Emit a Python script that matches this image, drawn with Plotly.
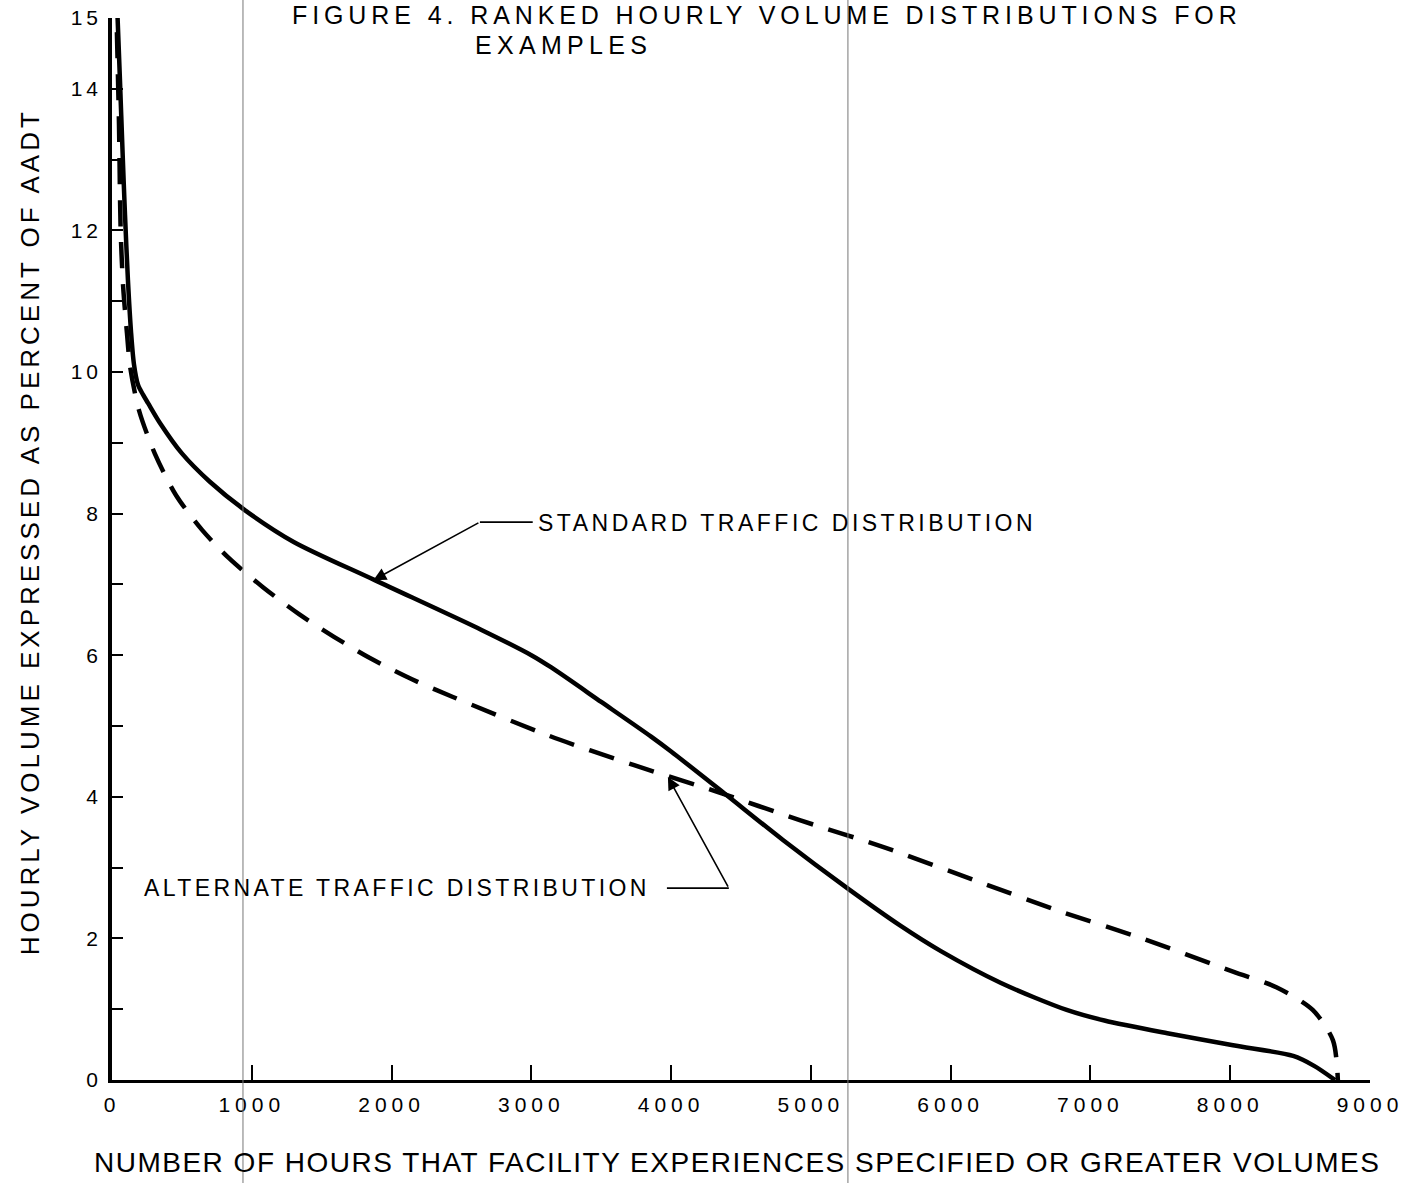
import plotly.graph_objects as go

# ranked hourly volume curves
hours_standard = [40, 57, 75, 93, 114, 136, 157, 186, 222, 258, 343, 500, 700, 950, 1300, 1880,
                  2640, 3000, 3140, 3500, 3857, 4000, 4380, 4800, 5260, 5640, 5930, 6360, 6830,
                  7100, 7550, 8020, 8450, 8600, 8750]
pct_standard = [15.0, 14.12, 13.14, 12.22, 11.3, 10.57, 10.11, 9.82, 9.68, 9.56, 9.28, 8.85, 8.45,
                8.05, 7.6, 7.06, 6.36, 6.0, 5.83, 5.34, 4.85, 4.64, 4.05, 3.39, 2.71, 2.18, 1.82,
                1.37, 0.99, 0.84, 0.66, 0.49, 0.34, 0.2, 0.0]

hours_alternate = [35, 50, 62, 80, 107, 130, 193, 308, 458, 644, 837, 1080, 1338, 1588, 1845,
                   2146, 2439, 3130, 3730, 4330, 4920, 5520, 6200, 6800, 7370, 8020, 8330, 8590,
                   8735, 8770]
pct_alternate = [14.8, 13.5, 12.0, 11.2, 10.55, 10.07, 9.46, 8.84, 8.26, 7.77, 7.37, 6.96, 6.58,
                 6.26, 5.96, 5.66, 5.41, 4.86, 4.45, 4.07, 3.67, 3.29, 2.8, 2.37, 2.0, 1.53,
                 1.31, 0.99, 0.56, 0.0]

x_ticks = [0, 1000, 2000, 3000, 4000, 5000, 6000, 7000, 8000, 9000]
x_tick_labels = ["0", "1000", "2000", "3000", "4000", "5000", "6000", "7000", "8000", "9000"]
y_ticks = list(range(16))
y_tick_labels = ["0", "", "2", "", "4", "", "6", "", "8", "", "10", "", "12", "", "14", "15"]

title_lines = ["FIGURE 4. RANKED HOURLY VOLUME DISTRIBUTIONS FOR", "EXAMPLES"]
x_title = "NUMBER OF HOURS THAT FACILITY EXPERIENCES SPECIFIED OR GREATER VOLUMES"
y_title = "HOURLY VOLUME EXPRESSED AS PERCENT OF AADT"
label_standard = "STANDARD TRAFFIC DISTRIBUTION"
label_alternate = "ALTERNATE TRAFFIC DISTRIBUTION"

FONT = "Liberation Sans"


def spaced(s, px):
    # old stencil lettering is widely spaced
    return '<span style="letter-spacing:%spx">%s</span>' % (px, s)


fig = go.Figure()
fig.add_trace(go.Scatter(x=hours_standard, y=pct_standard, mode="lines",
                         line=dict(color="black", width=4.5, shape="spline", smoothing=0.8)))
fig.add_trace(go.Scatter(x=hours_alternate, y=pct_alternate, mode="lines",
                         line=dict(color="black", width=4.5, dash="26px,16px",
                                   shape="spline", smoothing=0.8)))

fig.update_layout(
    width=1416, height=1183,
    margin=dict(l=112, r=46, t=18, b=103),
    showlegend=False,
    plot_bgcolor="white", paper_bgcolor="white",
    font=dict(family=FONT, color="black"),
)
fig.update_xaxes(
    range=[0, 9000], tickvals=x_ticks,
    ticktext=[spaced(t, 5) for t in x_tick_labels],
    ticks="inside", ticklen=15, tickwidth=2, tickcolor="black",
    showline=True, linewidth=3, linecolor="black", automargin=False,
    showgrid=False, zeroline=False, tickfont=dict(size=21), ticklabelstandoff=4,
    ticklabeloverflow="allow",
)
fig.update_yaxes(
    range=[0, 15], tickvals=y_ticks,
    ticktext=[spaced(t, 4) for t in y_tick_labels],
    ticks="inside", ticklen=11, tickwidth=2, tickcolor="black",
    showline=True, linewidth=3.5, linecolor="black", automargin=False,
    showgrid=False, zeroline=False, tickfont=dict(size=21), ticklabelstandoff=2,
    ticklabeloverflow="allow",
)

annos = [
    dict(text=spaced(title_lines[0], 4.9), x=0.521, y=1.0028, xref="paper", yref="paper",
         xanchor="center", yanchor="middle", font=dict(size=25)),
    dict(text=spaced(title_lines[1], 5.3), x=0.359, y=0.9746, xref="paper", yref="paper",
         xanchor="center", yanchor="middle", font=dict(size=25)),
    dict(text=spaced(x_title, 1.5), x=0.497, y=-0.078, xref="paper", yref="paper",
         xanchor="center", yanchor="middle", font=dict(size=28)),
    dict(text=spaced(y_title, 4), x=-0.065, y=0.516, xref="paper", yref="paper",
         xanchor="center", yanchor="middle", textangle=-90, font=dict(size=26)),
    dict(text=spaced(label_standard, 3.5), x=3033, y=7.87, xanchor="left", yanchor="middle",
         font=dict(size=23)),
    dict(text=spaced(label_alternate, 3.4), x=215, y=2.71, xanchor="left", yanchor="middle",
         font=dict(size=23)),
    # arrows pointing at the curves
    dict(text="", x=1870, y=7.06, ax=2632, ay=7.88, axref="x", ayref="y",
         showarrow=True, arrowhead=2, arrowsize=1.6, arrowwidth=1.6, arrowcolor="black"),
    dict(text="", x=3977, y=4.28, ax=4413, ay=2.71, axref="x", ayref="y",
         showarrow=True, arrowhead=2, arrowsize=1.6, arrowwidth=1.6, arrowcolor="black"),
]
for a in annos:
    a.setdefault("showarrow", False)
    fig.add_annotation(**a)

# leader lines to the labels
fig.add_shape(type="line", x0=2632, x1=3010, y0=7.88, y1=7.88, line=dict(color="black", width=1.6))
fig.add_shape(type="line", x0=3970, x1=4413, y0=2.71, y1=2.71, line=dict(color="black", width=1.6))

# fold marks from the scan
for fx in [937, 5265]:
    fig.add_shape(type="line", x0=fx, x1=fx, y0=-0.11, y1=1.03, xref="x", yref="paper",
                  line=dict(color="#777777", width=1))

# drop the default 8px body margin so the figure fills the window
fig.write_html("out.html", config={"displayModeBar": False},
               post_script="document.body.style.margin='0';")
